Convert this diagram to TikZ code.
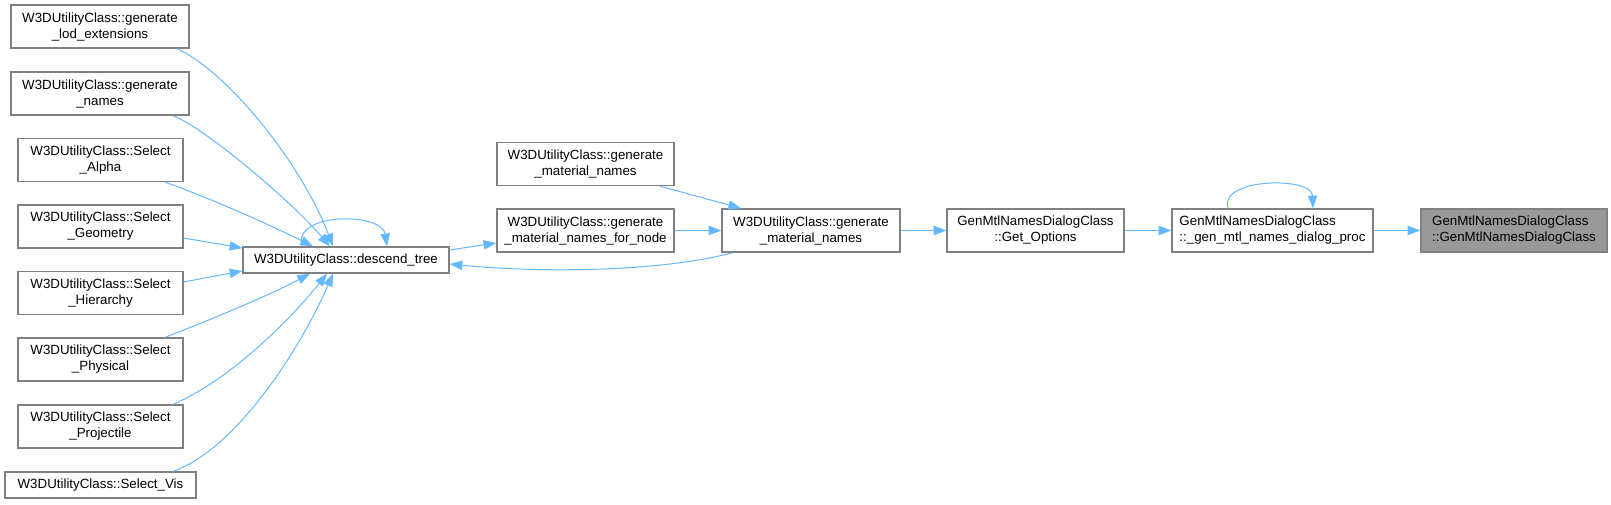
\documentclass[tikz,border=0pt]{standalone}
\usepackage{fontspec}
\setmainfont{Liberation Sans}
\usetikzlibrary{arrows.meta}
\definecolor{edgeblue}{HTML}{63B8FF}
\definecolor{boxline}{HTML}{808080}
\definecolor{boxfill}{HTML}{999999}
\begin{document}
\begin{tikzpicture}[x=0.75pt,y=-0.75pt,
  fn/.style={draw=boxline, line width=1pt, fill=white, align=center, inner sep=0pt,
    font=\fontsize{10}{12}\selectfont, minimum height=#1},
  fn/.default=32.25pt,
  cur/.style={fn, fill=boxfill},
  call/.style={draw=edgeblue, line width=0.75pt, -{Triangle[length=9.5pt,width=7pt]}}]
\path[use as bounding box] (0,0) rectangle (1611,504);
% left column
\node[fn, minimum width=133.5pt] (lod) at (100,26.5) {W3DUtilityClass::generate\\\_lod\_extensions};
\node[fn, minimum width=133.5pt] (names) at (100,93.5) {W3DUtilityClass::generate\\\_names};
\node[fn, minimum width=123.75pt] (alpha) at (100.5,160) {W3DUtilityClass::Select\\\_Alpha};
\node[fn, minimum width=123.75pt] (geom) at (100.5,226.5) {W3DUtilityClass::Select\\\_Geometry};
\node[fn, minimum width=123.75pt] (hier) at (100.5,293) {W3DUtilityClass::Select\\\_Hierarchy};
\node[fn, minimum width=123.75pt] (phys) at (100.5,359.5) {W3DUtilityClass::Select\\\_Physical};
\node[fn, minimum width=123.75pt] (proj) at (100.5,426.5) {W3DUtilityClass::Select\\\_Projectile};
\node[fn=19.5pt, minimum width=143.25pt] (vis) at (100.5,485) {W3DUtilityClass::Select\_Vis};
% descend
\node[fn=19.5pt, minimum width=154.5pt] (desc) at (346,260) {W3DUtilityClass::descend\_tree};
% middle
\node[fn, minimum width=132.75pt] (gmtop) at (585.5,164) {W3DUtilityClass::generate\\\_material\_names};
\node[fn, minimum width=132.75pt] (gmnode) at (585.5,230.5) {W3DUtilityClass::generate\\\_material\_names\_for\_node};
\node[fn, minimum width=133.5pt] (gmmain) at (811,230.5) {W3DUtilityClass::generate\\\_material\_names};
\node[fn, minimum width=132.75pt] (getopt) at (1035.5,230.5) {GenMtlNamesDialogClass\\::Get\_Options};
\node[fn, minimum width=150.75pt, align=left] (proc) at (1272.5,230.5) {GenMtlNamesDialogClass\\::\_gen\_mtl\_names\_dialog\_proc};
\node[cur, minimum width=139.5pt, align=left] (target) at (1514,230.5) {GenMtlNamesDialogClass\\::GenMtlNamesDialogClass};
% edges into descend_tree
\draw[call] (lod.south -| 177,0) .. controls (225,70) and (300,160) .. (desc.north -| 333,0);
\draw[call] (names.south -| 173,0) .. controls (205,128) and (290,200) .. (desc.north -| 330,0);
\draw[call] (alpha.south -| 165,0) .. controls (210,198) and (270,225) .. (desc.north -| 313,0);
\draw[call] (geom.east |- 0,238) -- (desc.west |- 0,248);
\draw[call] (hier.east |- 0,282) -- (desc.west |- 0,271);
\draw[call] (phys.north -| 165,0) .. controls (210,320) and (270,295) .. (desc.south -| 310,0);
\draw[call] (proj.north -| 173,0) .. controls (230,380) and (290,320) .. (desc.south -| 327,0);
\draw[call] (vis.north -| 173,0) .. controls (235,450) and (300,350) .. (desc.south -| 333,0);
\draw[call] (desc.north -| 302,0) .. controls (292,212) and (382,212) .. (desc.north -| 387,0);
% descend -> for_node
\draw[call] (desc.east |- 0,250) -- (gmnode.west |- 0,243);
% back edge gmmain -> descend
\draw[call] (gmmain.south -| 733,0) .. controls (660,272) and (540,273) .. (desc.east |- 0,264);
% into gmmain
\draw[call] (gmtop.south -| 660,0) -- (gmmain.north -| 741,0);
\draw[call] (gmnode) -- (gmmain);
\draw[call] (gmmain) -- (getopt);
\draw[call] (getopt) -- (proc);
\draw[call] (proc.north -| 1228,0) .. controls (1218,178) and (1312,176) .. (proc.north -| 1313,0);
\draw[call] (proc) -- (target);
\end{tikzpicture}
\end{document}
